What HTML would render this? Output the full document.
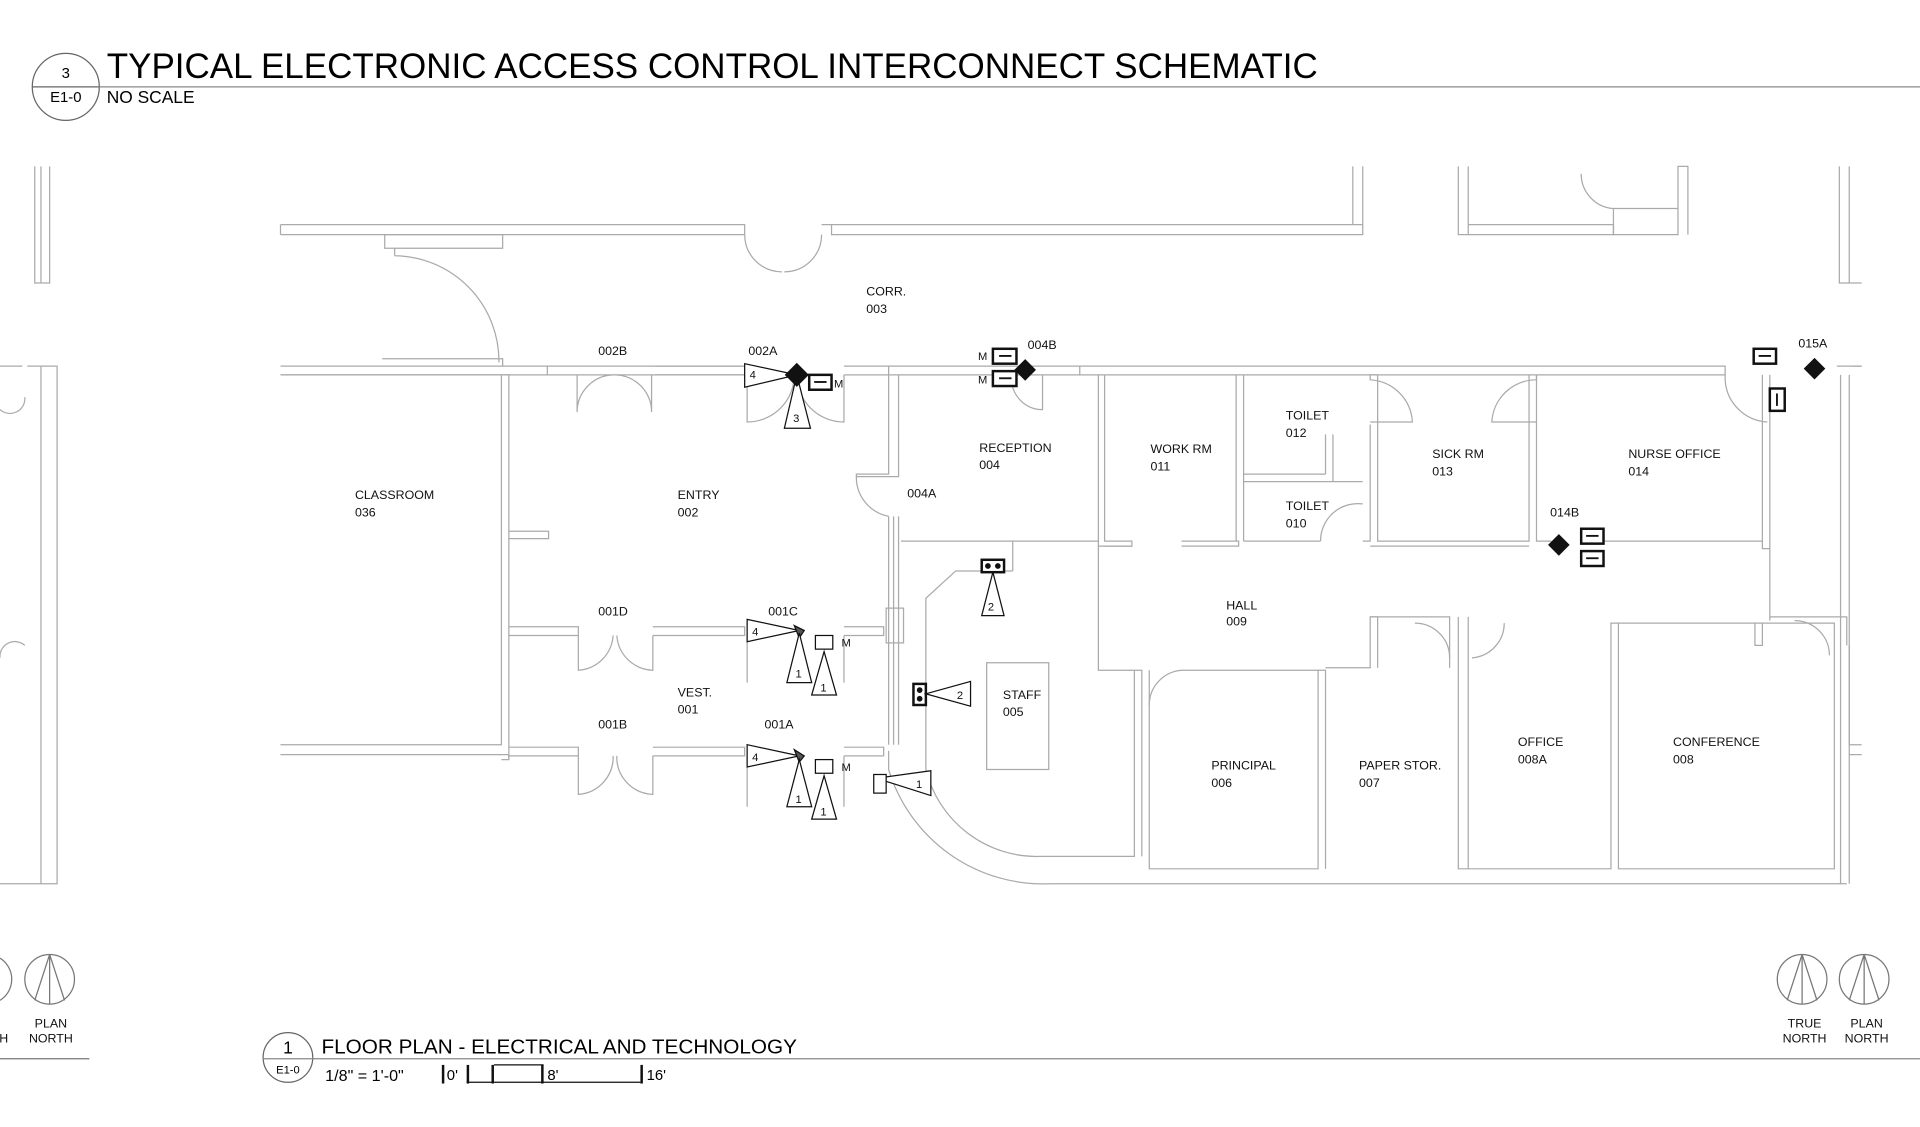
<!DOCTYPE html><html><head><style>html,body{margin:0;padding:0;background:#fff}svg{display:block}</style></head><body>
<svg width="1920" height="1127" viewBox="0 0 1547 908" xmlns="http://www.w3.org/2000/svg" font-family="Liberation Sans, sans-serif">
<rect width="1547" height="908" fill="#fff"/>
<circle cx="53" cy="70" r="27" fill="none" stroke="#666" stroke-width="1"/>
<line x1="26" y1="70" x2="80" y2="70" stroke="#666"/>
<line x1="80" y1="70" x2="1547" y2="70" stroke="#888"/>
<text x="53" y="63" font-size="12" text-anchor="middle">3</text>
<text x="53" y="82" font-size="12" text-anchor="middle">E1-0</text>
<text x="86" y="63" font-size="28.2">TYPICAL ELECTRONIC ACCESS CONTROL INTERCONNECT SCHEMATIC</text>
<text x="86" y="83" font-size="14">NO SCALE</text>
<g fill="none" stroke="#aaa" stroke-width="1">
<path d="M28 134V228H40V134M33 134V228"/>
<path d="M22 295H46V712H33V295"/>
<path d="M0 295H18M0 712H33"/>
<path d="M0 330A12 12 0 0 0 20 320M0 530A12 12 0 0 1 20 520"/>
<path d="M226 181H600V189H226M226 181V189"/>
<path d="M310 189H405V200H310Z"/>
<path d="M662 181H1098V189H670V181M1090 134V181M1098 134V189"/>
<path d="M600 189A30 30 0 0 0 630 219M662 189A30 30 0 0 1 632 219"/>
<path d="M318 206A85 85 0 0 1 402 292M318 200V206"/>
<path d="M1175 134V189H1183V134M1183 189H1300V181H1183"/>
<path d="M1300 181V189H1352V134H1360V189M1274 140A28 28 0 0 0 1300 168H1352M1300 168V189"/>
<path d="M1482 134V228H1490V134M1482 228H1500"/>
<path d="M226 295H600V302H226M308 289H405V295M410 295H441V302"/>
<path d="M528 295H600M528 302H600M680 295H870V302H680M716 295V302"/>
<path d="M870 295H1390V302H870M1390 295V302M1480 295H1500"/>
<path d="M465 302V332M525 302V332M465 332A30 30 0 0 1 494 302M525 332A30 30 0 0 0 496 302"/>
<path d="M602 302V340A38 38 0 0 0 640 302M680 302V340A38 38 0 0 1 642 302"/>
<path d="M840 302V330A25 25 0 0 1 815 305"/>
<path d="M226 302H404V600H226M404 302H410V612H404"/>
<path d="M226 608H410V612"/>
<path d="M410 428H442V434H410"/>
<path d="M410 505H466V512H410M526 505H600V512H526M680 505H712V512H680"/>
<path d="M410 602H466V609H410M526 602H600V609H526M680 602H712V609H680"/>
<path d="M466 512V540A30 30 0 0 0 494 512M526 512V540A30 30 0 0 1 497 512"/>
<path d="M466 609V640A30 30 0 0 0 494 609M526 609V640A30 30 0 0 1 497 609"/>
<path d="M602 512V550M680 512V550M602 609V650M680 609V650"/>
<path d="M716 302V382H690V384H724V302"/>
<path d="M690 384A32 32 0 0 0 716 416M716 416V600M724 416V600M720 416V600"/>
<path d="M714 490H728V518H714Z"/>
<path d="M726 436H885M816 436V460M770 460H816M770 460L746 482V620A92 92 0 0 0 838 690H914V540"/>
<path d="M716 605V620A130 130 0 0 0 846 712H1488"/>
<path d="M795 534H845V620H795Z"/>
<path d="M885 302V440H912V436H890V302"/>
<path d="M952 436H998V440H952M890 440H912"/>
<path d="M996 302V436M1002 302V436M1002 382H1068M1002 388H1098M1068 350V382M1074 350V388"/>
<path d="M1002 436H1064M1098 436H1104V342M1104 302V306A36 36 0 0 1 1138 340H1104"/>
<path d="M1064 436A30 30 0 0 1 1098 406"/>
<path d="M1110 302V436H1232V302M1104 302H1110M1238 302V436H1250M1232 440H1104"/>
<path d="M1238 302V306A36 36 0 0 0 1202 340H1238"/>
<path d="M1290 436H1420V302M1426 302V500M1420 436V442H1426"/>
<path d="M1390 302V306A36 36 0 0 0 1424 340"/>
<path d="M885 440V540H920V690M926 540V700H1062V540H1068V700M1068 538H1104V497H1110V538"/>
<path d="M1104 497H1168V538M1175 497V700H1183M1183 497V700H1298V502H1304V700H1478V502H1304M1414 502V520H1420V502"/>
<path d="M926 568A28 28 0 0 1 954 540H1062"/>
<path d="M1140 502A28 28 0 0 1 1168 530M1212 502A28 28 0 0 1 1186 530"/>
<path d="M1444 497H1488V520M1426 497H1444M1446 500A28 28 0 0 1 1474 528"/>
<path d="M1483 302V712M1490 302V712M1493 295H1500"/>
<path d="M1490 520V600H1500M1490 608H1500"/>
</g>
<g font-size="10" fill="#111">
<text x="698" y="238">CORR.</text><text x="698" y="252">003</text>
<text x="286" y="402">CLASSROOM</text><text x="286" y="416">036</text>
<text x="546" y="402">ENTRY</text><text x="546" y="416">002</text>
<text x="789" y="364">RECEPTION</text><text x="789" y="378">004</text>
<text x="927" y="365">WORK RM</text><text x="927" y="379">011</text>
<text x="1036" y="338">TOILET</text><text x="1036" y="352">012</text>
<text x="1036" y="411">TOILET</text><text x="1036" y="425">010</text>
<text x="1154" y="369">SICK RM</text><text x="1154" y="383">013</text>
<text x="1312" y="369">NURSE OFFICE</text><text x="1312" y="383">014</text>
<text x="988" y="491">HALL</text><text x="988" y="504">009</text>
<text x="546" y="561">VEST.</text><text x="546" y="575">001</text>
<text x="808" y="563">STAFF</text><text x="808" y="577">005</text>
<text x="976" y="620">PRINCIPAL</text><text x="976" y="634">006</text>
<text x="1095" y="620">PAPER STOR.</text><text x="1095" y="634">007</text>
<text x="1223" y="601">OFFICE</text><text x="1223" y="615">008A</text>
<text x="1348" y="601">CONFERENCE</text><text x="1348" y="615">008</text>
<text x="482" y="286">002B</text><text x="603" y="286">002A</text><text x="828" y="281">004B</text>
<text x="731" y="401">004A</text><text x="482" y="496">001D</text><text x="619" y="496">001C</text>
<text x="482" y="587">001B</text><text x="616" y="587">001A</text>
<text x="1249" y="416">014B</text><text x="1449" y="280">015A</text>
</g>
<g stroke="#111" fill="#fff" stroke-width="1">
<path d="M600 293L642 302L600 312Z"/>
<path d="M642 302L632 345H653Z"/>
<path d="M642 293L651 302L642 311L633 302Z" fill="#111"/>
<rect x="652" y="302" width="18" height="12" stroke-width="2"/>
<rect x="800" y="281" width="19" height="12" stroke-width="2"/>
<rect x="800" y="299" width="19" height="12" stroke-width="2"/>
<path d="M826 290L834 298L826 306L818 298Z" fill="#111"/>
<rect x="1413" y="281" width="18" height="12" stroke-width="2"/>
<rect x="1426" y="313" width="12" height="18" stroke-width="2"/>
<path d="M1462 289L1470 297L1462 305L1454 297Z" fill="#111"/>
<path d="M1256 431L1264 439L1256 447L1248 439Z" fill="#111"/>
<rect x="1274" y="426" width="18" height="12" stroke-width="2"/>
<rect x="1274" y="444" width="18" height="12" stroke-width="2"/>
<rect x="791" y="451" width="18" height="10" stroke-width="2"/>
<path d="M800 461L791 496H809Z"/>
<rect x="736" y="551" width="10" height="17" stroke-width="2"/>
<path d="M746 559L782 549V569Z"/>
<path d="M602 499L644 508L602 517Z"/><path d="M640 504L648 508L644 514Z" fill="#555"/>
<path d="M644 510L634 550H654Z"/><path d="M664 525L654 560H674Z"/>
<rect x="657" y="512" width="14" height="11"/>
<path d="M602 600L644 609L602 618Z"/><path d="M640 604L648 609L644 614Z" fill="#555"/>
<path d="M644 612L634 650H654Z"/><path d="M664 625L654 660H674Z"/>
<rect x="657" y="612" width="14" height="11"/>
<path d="M706 627L750 621V641Z"/><rect x="704" y="624" width="10" height="15"/>
</g>
<g fill="#111" stroke="none">
<rect x="805" y="286" width="10" height="1.5"/><rect x="805" y="304" width="10" height="1.5"/>
<rect x="656" y="307" width="10" height="1.5"/><rect x="1417" y="286" width="10" height="1.5"/>
<rect x="1431" y="317" width="1.5" height="10"/><rect x="1278" y="431" width="10" height="1.5"/><rect x="1278" y="449" width="10" height="1.5"/>
<circle cx="796" cy="456" r="2.3"/><circle cx="804" cy="456" r="2.3"/>
<circle cx="741" cy="556" r="2.3"/><circle cx="741" cy="563" r="2.3"/>
</g>
<g font-size="9" fill="#111">
<text x="604" y="305">4</text><text x="639" y="340">3</text><text x="672" y="312">M</text>
<text x="788" y="290">M</text><text x="788" y="309">M</text><text x="796" y="492">2</text>
<text x="771" y="563">2</text><text x="606" y="512">4</text><text x="641" y="546">1</text><text x="661" y="557">1</text><text x="678" y="521">M</text>
<text x="606" y="613">4</text><text x="641" y="647">1</text><text x="661" y="657">1</text><text x="678" y="621">M</text><text x="738" y="635">1</text>
</g>
<g fill="none" stroke="#777">
<circle cx="40" cy="789" r="20"/><path d="M40 769L28 806M40 769L52 806M40 769V809"/>
<path d="M0 772A20 20 0 0 1 0 806"/>
<circle cx="1452" cy="789" r="20"/><path d="M1452 769L1440 806M1452 769L1464 806M1452 769V809"/>
<circle cx="1502" cy="789" r="20"/><path d="M1502 769L1490 806M1502 769L1514 806M1502 769V809"/>
<line x1="0" y1="853" x2="72" y2="853"/>
</g>
<g font-size="10" fill="#111" text-anchor="middle">
<text x="41" y="828">PLAN</text><text x="41" y="840">NORTH</text>
<text x="1454" y="828">TRUE</text><text x="1454" y="840">NORTH</text>
<text x="1504" y="828">PLAN</text><text x="1504" y="840">NORTH</text>
<text x="3" y="840">H</text>
</g>
<circle cx="232" cy="852" r="20" fill="none" stroke="#666"/>
<line x1="212" y1="853" x2="1547" y2="853" stroke="#888"/>
<text x="232" y="849" font-size="14" text-anchor="middle">1</text>
<text x="232" y="865" font-size="9" text-anchor="middle">E1-0</text>
<text x="259" y="849" font-size="16.7">FLOOR PLAN - ELECTRICAL AND TECHNOLOGY</text>
<text x="262" y="871" font-size="13">1/8" = 1'-0"</text>
<g fill="#111"><rect x="356" y="858" width="2" height="15"/><rect x="376" y="858" width="2" height="15"/><rect x="396" y="858" width="2" height="15"/><rect x="436" y="858" width="2" height="15"/><rect x="516" y="858" width="2" height="15"/></g>
<g fill="none" stroke="#111"><path d="M376 872H438M398 858H438M438 872H516"/></g>
<g font-size="12"><text x="360" y="870">0'</text><text x="441" y="870">8'</text><text x="521" y="870">16'</text></g>
</svg>
</body></html>
